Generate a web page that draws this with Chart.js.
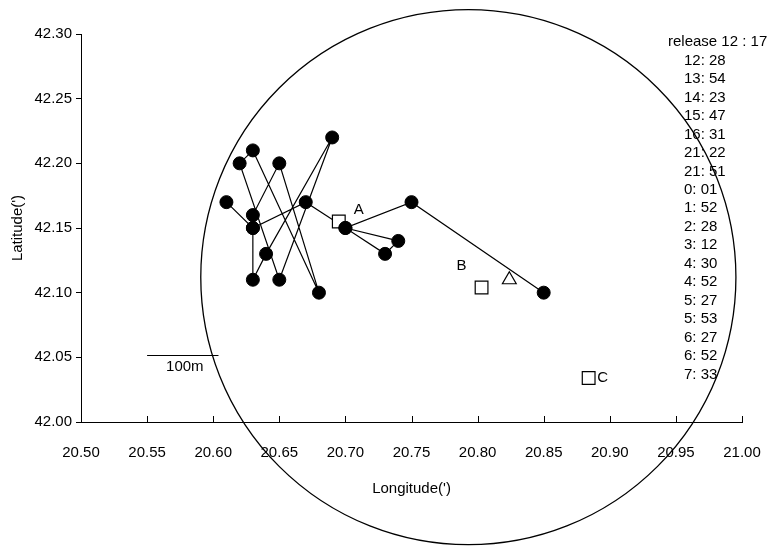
<!DOCTYPE html>
<html>
<head>
<meta charset="utf-8">
<script src="https://cdn.jsdelivr.net/npm/chart.js@4"></script>
<style>
    html, body { margin: 0; padding: 0; background: #fff; }
    #wrap { width: 774px; height: 548px; }
</style>
</head>
<body>
<div id="wrap"><canvas id="track-chart" width="774" height="548"></canvas></div>
<script>
// tracked positions, in the order they are joined
const trackLon = [20.61, 20.63, 20.63, 20.64, 20.69, 20.65, 20.62, 20.63, 20.68, 20.65, 20.63, 20.63, 20.67, 20.70, 20.74, 20.73, 20.70, 20.75, 20.85];
const trackLat = [42.17, 42.15, 42.11, 42.13, 42.22, 42.11, 42.20, 42.21, 42.10, 42.20, 42.16, 42.15, 42.17, 42.15, 42.14, 42.13, 42.15, 42.17, 42.10];

// stations (open squares) and the triangle mark
const siteNames = ["A", "B", "C"];
const siteLon = [20.695, 20.803, 20.884];
const siteLat = [42.155, 42.104, 42.034];
const markLon = [20.824];
const markLat = [42.110];

// detection range circle (radius in longitude minutes)
const rangeCenterLon = 20.793;
const rangeCenterLat = 42.112;
const rangeRadius = 0.2024;

// 100 m scale bar
const scaleBarLon = [20.550, 20.604];
const scaleBarLat = 42.052;
const scaleBarLabel = "100m";

const releaseLabel = "release 12 : 17";
const fixTimes = ["12: 28", "13: 54", "14: 23", "15: 47", "16: 31", "21: 22", "21: 51", "0: 01", "1: 52",
    "2: 28", "3: 12", "4: 30", "4: 52", "5: 27", "5: 53", "6: 27", "6: 52", "7: 33"];

const xTickValues = [20.50, 20.55, 20.60, 20.65, 20.70, 20.75, 20.80, 20.85, 20.90, 20.95, 21.00];
const yTickValues = [42.00, 42.05, 42.10, 42.15, 42.20, 42.25, 42.30];

const FONT = '"Liberation Sans", Arial, sans-serif';

document.addEventListener("DOMContentLoaded", function () {
    Chart.defaults.font.family = FONT;
    Chart.defaults.font.size = 15;
    Chart.defaults.color = "#000";
    RenderChart();
});

function RenderChart() {
    const ctx = document.getElementById("track-chart").getContext("2d");

    const trackPoints = trackLon.map((lon, i) => ({ x: lon, y: trackLat[i] }));
    const sitePoints = siteLon.map((lon, i) => ({ x: lon, y: siteLat[i] }));
    const markPoints = markLon.map((lon, i) => ({ x: lon, y: markLat[i] }));

    const overlay = {
        id: "overlay",
        afterDraw(chart) {
            const c = chart.ctx;
            const xs = chart.scales.x;
            const ys = chart.scales.y;
            const area = chart.chartArea;

            c.save();
            c.strokeStyle = "#000";
            c.lineWidth = 1;

            // inside tick marks on the x axis
            xTickValues.forEach(v => {
                const px = Math.round(xs.getPixelForValue(v)) + 0.5;
                c.beginPath();
                c.moveTo(px, area.bottom);
                c.lineTo(px, area.bottom - 6);
                c.stroke();
            });

            // range circle, not clipped
            const cx = xs.getPixelForValue(rangeCenterLon);
            const cy = ys.getPixelForValue(rangeCenterLat);
            const r = xs.getPixelForValue(rangeCenterLon + rangeRadius) - cx;
            c.lineWidth = 1.3;
            c.beginPath();
            c.arc(cx, cy, r, 0, Math.PI * 2);
            c.stroke();

            // scale bar
            c.lineWidth = 1;
            const sy = Math.round(ys.getPixelForValue(scaleBarLat)) + 0.5;
            const sx1 = xs.getPixelForValue(scaleBarLon[0]);
            const sx2 = xs.getPixelForValue(scaleBarLon[1]);
            c.beginPath();
            c.moveTo(sx1, sy);
            c.lineTo(sx2, sy);
            c.stroke();

            c.fillStyle = "#000";
            c.font = "15px " + FONT;
            c.textBaseline = "middle";
            c.textAlign = "center";
            c.fillText(scaleBarLabel, (sx1 + sx2) / 2 + 2, sy + 11);

            // station letters
            const letterOffsets = [[20, -12], [-20, -22], [14, 0]];
            siteNames.forEach((name, i) => {
                const px = xs.getPixelForValue(siteLon[i]) + letterOffsets[i][0];
                const py = ys.getPixelForValue(siteLat[i]) + letterOffsets[i][1];
                c.fillText(name, px, py);
            });

            // release / fix time list
            c.textAlign = "left";
            const lineH = 18.48;
            c.fillText(releaseLabel, 668, 42);
            fixTimes.forEach((t, i) => {
                c.fillText(t, 684, 42 + (i + 1) * lineH);
            });

            c.restore();
        }
    };

    new Chart(ctx, {
        type: "scatter",
        data: {
            datasets: [
                {
                    label: "fixes",
                    data: trackPoints,
                    showLine: false,
                    pointRadius: 6.5,
                    pointHoverRadius: 6.5,
                    pointBackgroundColor: "#000",
                    pointBorderColor: "#000",
                    pointBorderWidth: 1,
                    order: 0
                },
                {
                    label: "stations",
                    data: sitePoints,
                    pointStyle: "rect",
                    pointRadius: 9,
                    pointHoverRadius: 9,
                    pointBackgroundColor: "#fff",
                    pointBorderColor: "#000",
                    pointBorderWidth: 1.2,
                    order: 1
                },
                {
                    label: "mark",
                    data: markPoints,
                    pointStyle: "triangle",
                    pointRadius: 8,
                    pointHoverRadius: 8,
                    pointBackgroundColor: "#fff",
                    pointBorderColor: "#000",
                    pointBorderWidth: 1.2,
                    order: 1
                },
                {
                    label: "track",
                    data: trackPoints,
                    showLine: true,
                    borderColor: "#000",
                    borderWidth: 1.2,
                    pointRadius: 0,
                    pointHoverRadius: 0,
                    tension: 0,
                    order: 2
                }
            ]
        },
        options: {
            responsive: false,
            animation: false,
            events: [],
            layout: {
                padding: { top: 34, right: 32, left: 0, bottom: 0 }
            },
            plugins: {
                legend: { display: false },
                tooltip: { enabled: false }
            },
            scales: {
                x: {
                    type: "linear",
                    min: 20.5,
                    max: 21.0,
                    afterBuildTicks: scale => {
                        scale.ticks = xTickValues.map(v => ({ value: v }));
                    },
                    afterFit: scale => {
                        scale.height = 126;
                        scale.paddingLeft = 0;
                        scale.paddingRight = 0;
                    },
                    ticks: {
                        autoSkip: false,
                        maxRotation: 0,
                        padding: 22,
                        callback: v => v.toFixed(2)
                    },
                    grid: {
                        drawOnChartArea: false,
                        drawTicks: false
                    },
                    border: { display: true, color: "#000", width: 1 },
                    title: {
                        display: true,
                        text: "Longitude(')",
                        padding: { top: 0, bottom: 50 }
                    }
                },
                y: {
                    type: "linear",
                    min: 42.0,
                    max: 42.3,
                    afterBuildTicks: scale => {
                        scale.ticks = yTickValues.map(v => ({ value: v }));
                    },
                    afterFit: scale => {
                        scale.width = 81;
                    },
                    ticks: {
                        autoSkip: false,
                        padding: 4,
                        callback: v => v.toFixed(2)
                    },
                    grid: {
                        drawOnChartArea: false,
                        drawTicks: true,
                        tickLength: 5,
                        color: "#000"
                    },
                    border: { display: true, color: "#000", width: 1 },
                    title: {
                        display: true,
                        text: "Latitude(')",
                        padding: { top: 9, bottom: 0 }
                    }
                }
            }
        },
        plugins: [overlay]
    });
}
</script>
</body>
</html>
